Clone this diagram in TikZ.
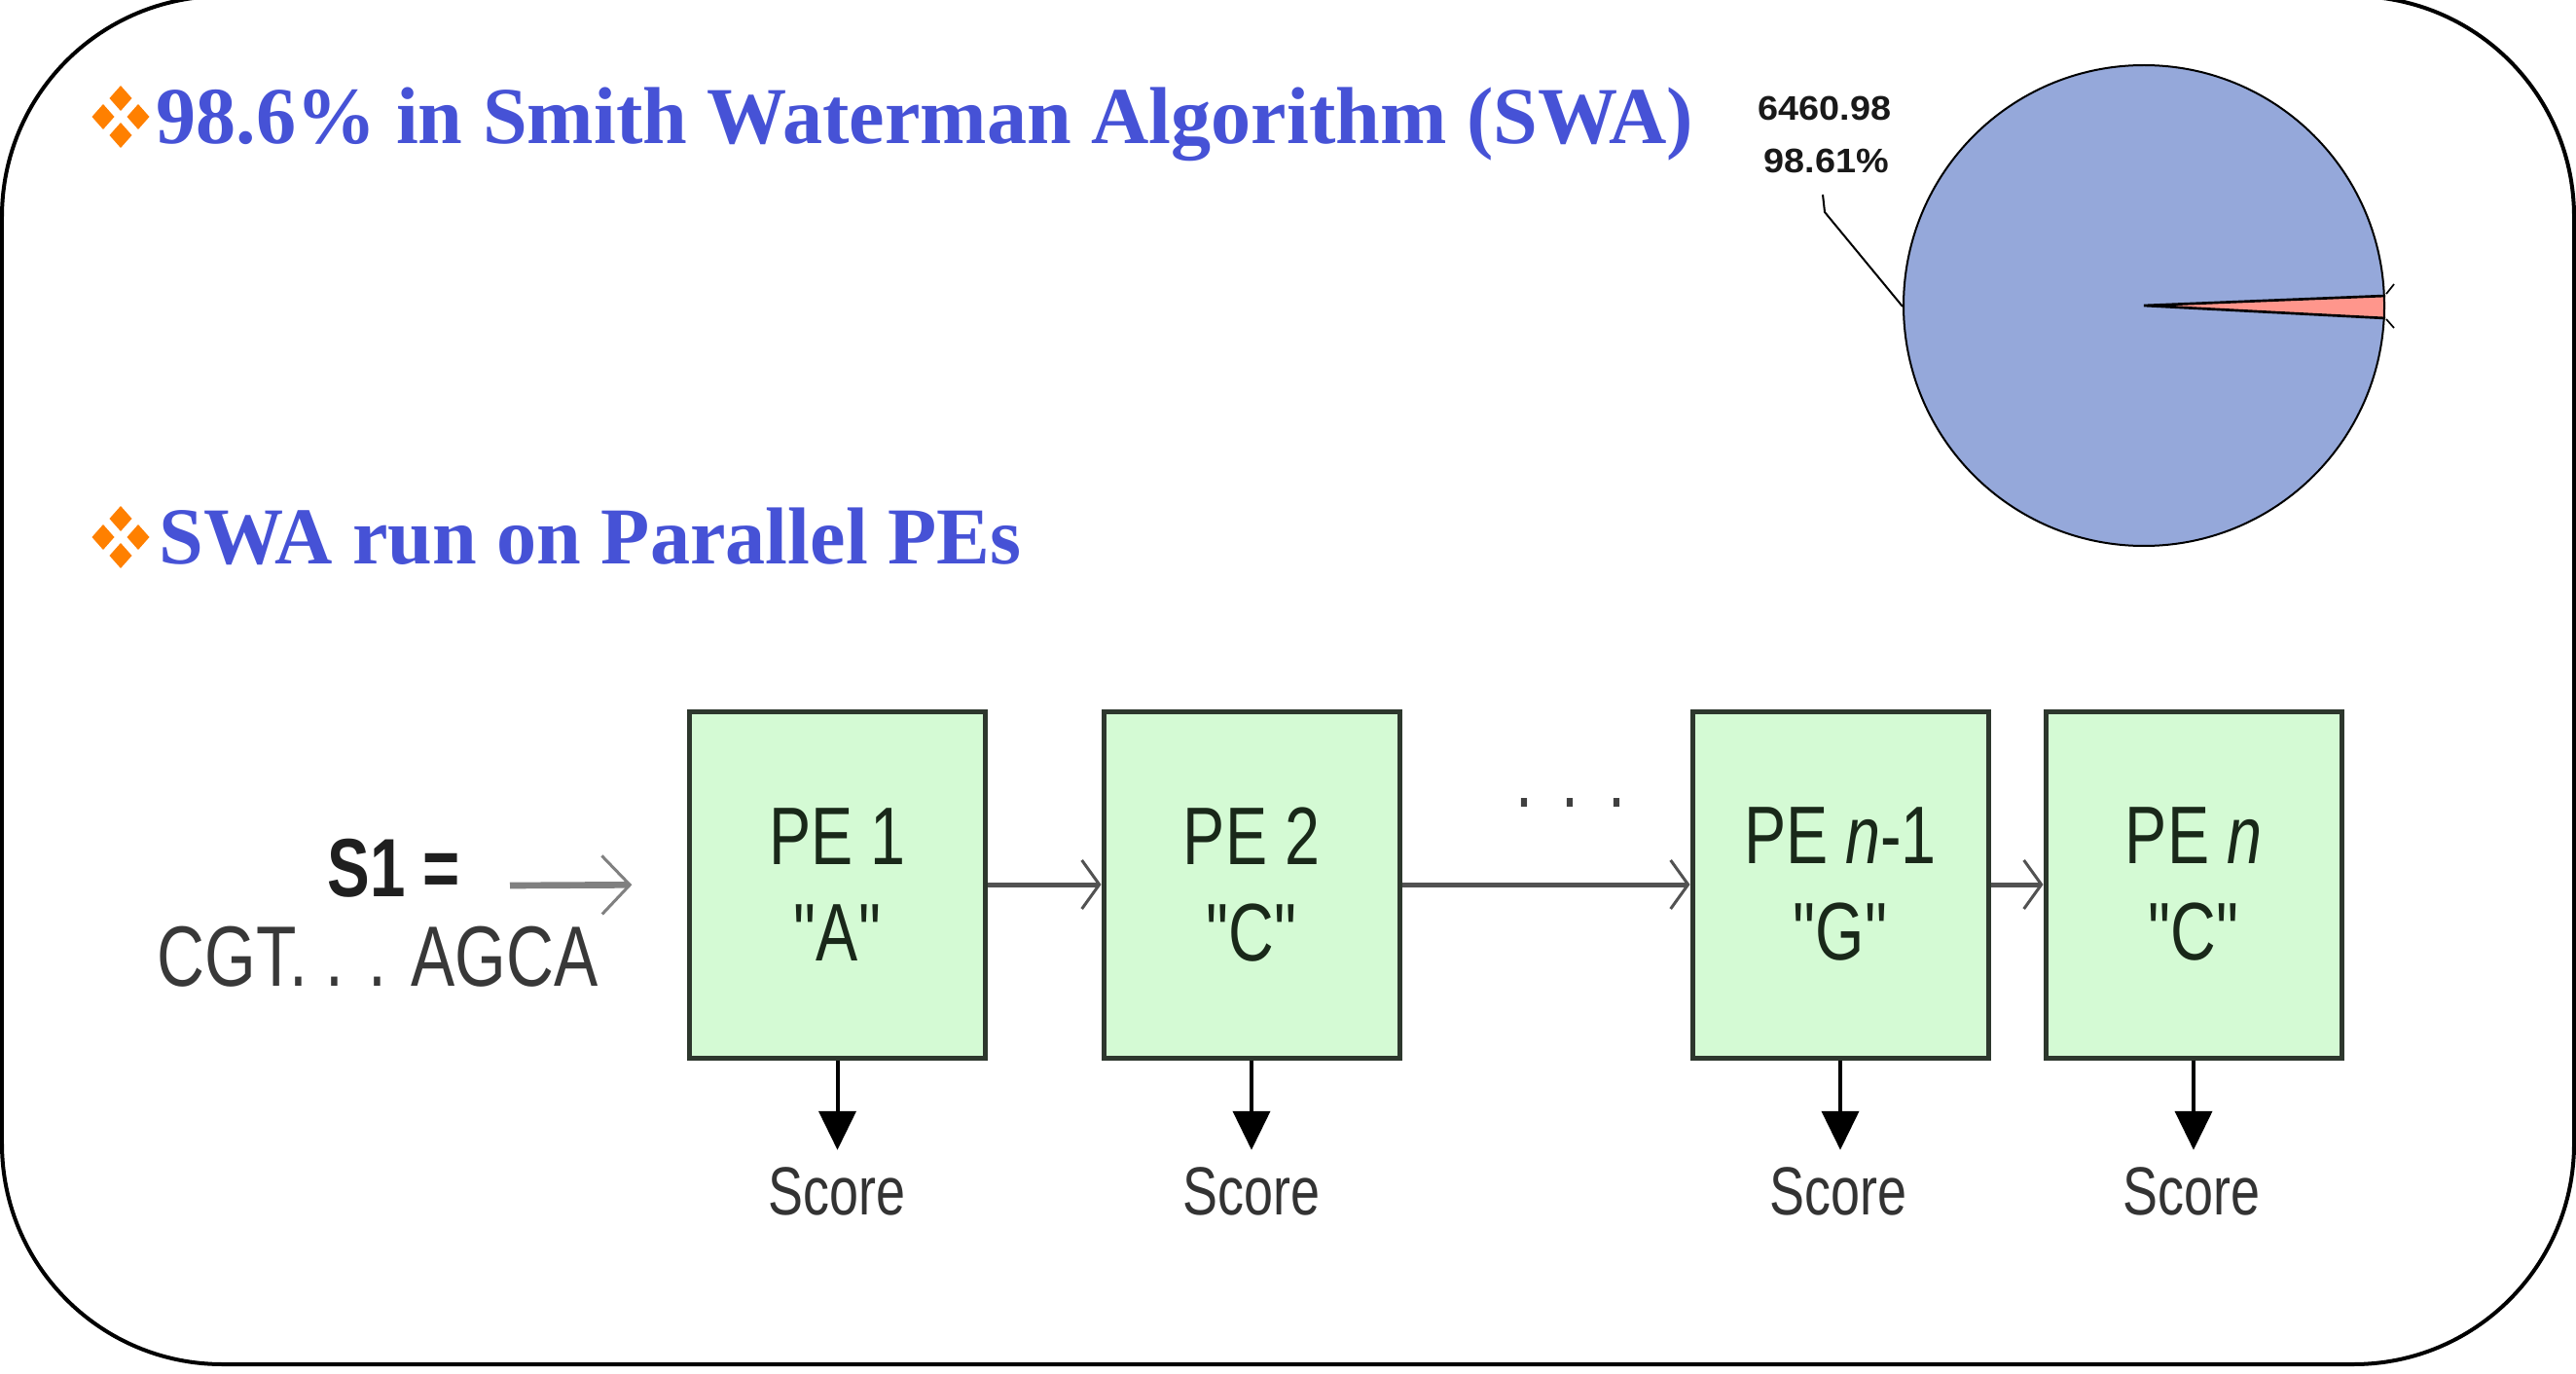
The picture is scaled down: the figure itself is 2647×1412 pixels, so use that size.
\documentclass[tikz,border=0pt]{standalone}
\usepackage{fontspec}
\setmainfont{Liberation Serif}
\newfontfamily\titlefont[FakeStretch=0.99]{Liberation Serif}
\newfontfamily\narrowsans[FakeStretch=0.77]{Liberation Sans}
\newfontfamily\widesans[FakeStretch=1.08]{Liberation Sans}
\usetikzlibrary{arrows.meta}
\definecolor{titleblue}{RGB}{70,82,214}
\definecolor{bulletorange}{RGB}{255,128,0}
\definecolor{pieblue}{RGB}{149,168,218}
\definecolor{piered}{RGB}{255,150,140}
\definecolor{pegreen}{RGB}{212,250,212}
\definecolor{peborder}{RGB}{45,55,45}
\definecolor{petext}{RGB}{25,40,25}
\begin{document}
\begin{tikzpicture}[x=0.3pt,y=-0.3pt,
  titletext/.style={font=\titlefont\bfseries\fontsize{24.9pt}{30pt}\selectfont, text=titleblue, inner sep=0pt, anchor=base west},
  pebox/.style={draw=peborder, fill=pegreen, line width=1.5pt, minimum width=91.2pt, minimum height=106.8pt, inner sep=0pt, align=center, text=petext, font=\narrowsans\fontsize{25.2pt}{29.7pt}\selectfont},
  scorelabel/.style={font=\narrowsans\fontsize{21pt}{25pt}\selectfont, text=black!80, inner sep=0pt, anchor=base},
  chainarrow/.style={draw=black!68, line width=1.5pt, -{Straight Barb[length=5.4pt,width=15pt,line width=0.9pt]}},
  inarrow/.style={draw=black!50, line width=2pt, -{Straight Barb[length=8.6pt,width=18pt,line width=0.9pt]}, shorten >=17pt},
  scorearrow/.style={draw=black, line width=1.2pt, -{Triangle[length=12pt,width=11.4pt]}, shorten >=5pt},
  pielabel/.style={font=\widesans\bfseries\fontsize{10.5pt}{12pt}\selectfont, text=black!90, inner sep=0pt, anchor=base},
  bulletmark/.pic={
    \foreach \dx/\dy in {0/-19,0/19,-18/0,18/0}
      \fill[bulletorange] (\dx,\dy-13) -- (\dx+11.5,\dy) -- (\dx,\dy+13) -- (\dx-11.5,\dy) -- cycle;
  }]
\useasboundingbox (0,0) rectangle (2647,1412);
\fill[white] (0,0) rectangle (2647,1412);

% frame
\draw[line width=1.2pt, rounded corners=68pt] (2,-4) rectangle (2645,1402);

% titles
\pic (b1) at (124,120) {bulletmark};
\node[titletext] (t1) at (160,148) {98.6\% in Smith Waterman Algorithm (SWA)};
\pic (b2) at (124,552) {bulletmark};
\node[titletext] (t2) at (163,579) {SWA run on Parallel PEs};

% pie chart
\fill[pieblue] (2203,314) circle[radius=74.1pt];
\fill[piered] (2203,314) -- (2451,304) -- (2451,327) -- cycle;
\draw[line width=0.6pt] (2203,314) circle[radius=74.1pt];
\draw[line width=0.8pt] (2451,304) -- (2203,314) -- (2451,327);
\draw[line width=0.5pt] (2452,302) -- (2460,292);
\draw[line width=0.5pt] (2452,328) -- (2460,337);
\node[pielabel] (pv) at (1875,124) {6460.98};
\node[pielabel] (pp) at (1877,178) {98.61\%};
\draw[line width=0.6pt] (1873,200) -- (1875,218) -- (1955,315);

% PE chain
\node[pebox] (pe1) at (860.5,909) {PE 1\\"A"};
\node[pebox] (pe2) at (1286,909) {PE 2\\"C"};
\node[pebox] (pe3) at (1891,909) {PE \textit{n}-1\\"G"};
\node[pebox] (pe4) at (2254,909) {PE \textit{n}\\"C"};

\node[font=\narrowsans\bfseries\fontsize{25.5pt}{30pt}\selectfont, text=black!88, inner sep=0pt, anchor=base west] (s1) at (336,921) {S1 =};
\node[font=\narrowsans\fontsize{26.4pt}{30pt}\selectfont, text=black!78, inner sep=0pt, anchor=base west] (seq) at (161,1013) {CGT. . . AGCA};
\coordinate (inStart) at (524,910);
\draw[inarrow] (inStart) -- (pe1.west);

\draw[chainarrow] (pe1.east) -- (pe2.west);
\draw[chainarrow] (pe2.east) -- (pe3.west);
\draw[chainarrow] (pe3.east) -- (pe4.west);
\node[font=\narrowsans\fontsize{25.2pt}{30pt}\selectfont, text=black!75, inner sep=0pt, anchor=base] (dots) at (1614,829) {.\hspace{9pt}.\hspace{9pt}.};

\node[scorelabel] (sc1) at (860,1248) {Score};
\node[scorelabel] (sc2) at (1286,1248) {Score};
\node[scorelabel] (sc3) at (1889,1248) {Score};
\node[scorelabel] (sc4) at (2252,1248) {Score};
\draw[scorearrow] (pe1.south) -- (pe1.south |- sc1.north);
\draw[scorearrow] (pe2.south) -- (pe2.south |- sc2.north);
\draw[scorearrow] (pe3.south) -- (pe3.south |- sc3.north);
\draw[scorearrow] (pe4.south) -- (pe4.south |- sc4.north);
\end{tikzpicture}
\end{document}
